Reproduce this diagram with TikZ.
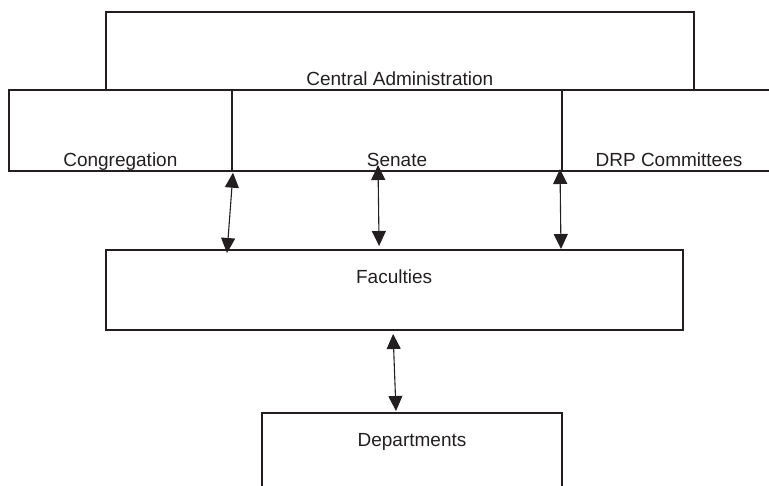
\documentclass[tikz,border=0pt]{standalone}
\usepackage{fontspec}
\setmainfont{Liberation Sans}
\usetikzlibrary{arrows.meta,calc}
\definecolor{ink}{HTML}{231F20}

\begin{document}
\begin{tikzpicture}[x=1pt, y=1pt,
        box/.style={rectangle, draw=ink, line width=2pt, inner sep=0pt},
        caption/.style={anchor=base, text=ink, inner sep=0pt, font=\fontsize{19}{22}\selectfont},
        link/.style={draw=ink, line width=1.1pt, {Triangle[length=15pt,width=14pt]}-{Triangle[length=15pt,width=14pt]}}]
        \useasboundingbox (0,0) rectangle (769,486);
        \clip (0,0) rectangle (769,486);
        % Boxes
        \node[box, minimum width=588.3pt, minimum height=78pt] (admin) at (399.85,435) {};
        \node[box, minimum width=223.3pt, minimum height=81pt] (cong) at (120.35,355.5) {};
        \node[box, minimum width=330pt, minimum height=81pt] (senate) at (397,355.5) {};
        \node[box, minimum width=214pt, minimum height=81pt] (drp) at (669,355.5) {};
        \node[box, minimum width=576.8pt, minimum height=80pt] (fac) at (394.1,196) {};
        \node[box, minimum width=300pt, minimum height=103pt] (dept) at (412,21.5) {};
        % Captions
        \node[caption] (admintext) at ($(admin.south)+(0,5)$) {Central Administration};
        \node[caption] (congtext) at ($(cong.south)+(0,5.5)$) {Congregation};
        \node[caption] (senatetext) at ($(senate.south)+(0,5.5)$) {Senate};
        \node[caption] (drptext) at ($(drp.south)+(0,5.5)$) {DRP Committees};
        \node[caption] (factext) at ($(fac.north)+(0,-35)$) {Faculties};
        \node[caption] (depttext) at ($(dept.north)+(0,-35)$) {Departments};
        % Links
        \draw[link] ($(cong.south east)+(0,-0.7)$) -- ($(fac.north west)+(122.3,-4)$);
        \draw[link] ($(senate.south)+(-19,7)$) -- ($(fac.north)+(-15,3)$);
        \draw[link] ($(drp.south west)+(-1,3)$) -- ($(fac.north west)+(456.3,0)$);
        \draw[link] ($(fac.south)+(-1,-3)$) -- ($(dept.north)+(-16,1)$);
\end{tikzpicture}
\end{document}
